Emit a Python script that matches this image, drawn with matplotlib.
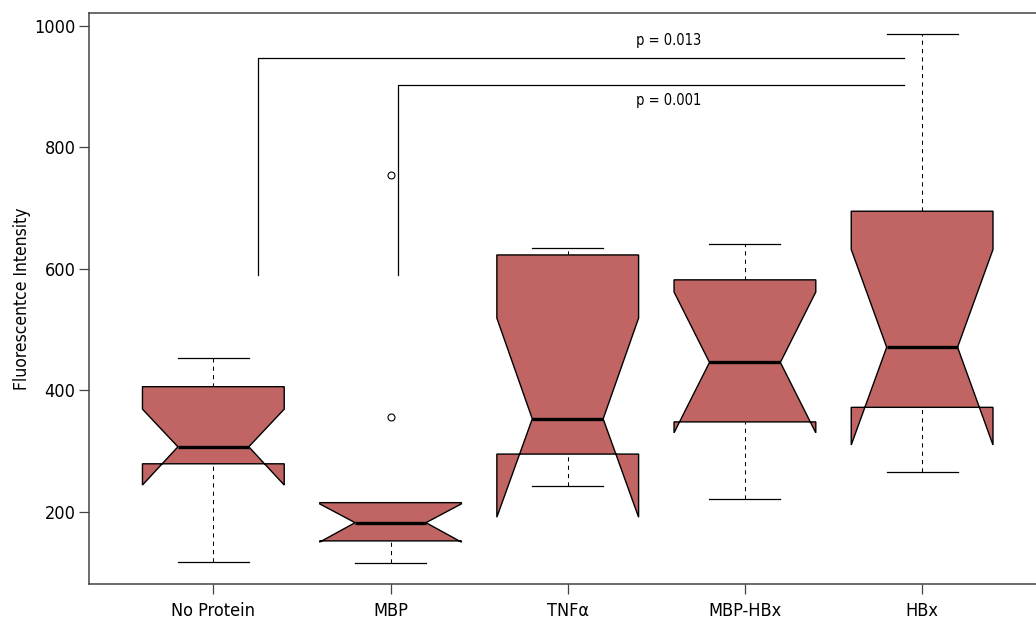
import matplotlib
matplotlib.use("Agg")
import matplotlib.pyplot as plt
from matplotlib import font_manager
from matplotlib.patches import Polygon

# Prefer a narrow sans face for all text
_installed = {f.name for f in font_manager.fontManager.ttflist}
if "Liberation Sans Narrow" in _installed:
    plt.rcParams['font.family'] = ['Liberation Sans Narrow', 'DejaVu Sans']
    FS_TICK, FS_YLAB, FS_P = 14, 13.5, 11.5
else:
    plt.rcParams['font.family'] = ['DejaVu Sans']
    plt.rcParams['font.stretch'] = 'condensed'
    FS_TICK, FS_YLAB, FS_P = 13, 12.5, 10.5

# Group labels and five-number summaries (with notch limits)
groups = ["No Protein", "MBP", "TNF\u03b1", "MBP-HBx", "HBx"]
whisker_low = [118, 116, 243, 221, 265]
q1 = [279, 152, 295, 348, 372]
median = [307, 182, 353, 446, 471]
q3 = [406, 215, 623, 582, 695]
whisker_high = [453, 215, 634, 641, 987]
notch_low = [244, 150, 191, 330, 310]
notch_high = [369, 213, 519, 562, 632]
outliers = [[], [755, 356], [], [], []]

# Significance brackets
bracket_left = [1.25, 2.04]
bracket_bottom = [590, 590]
bracket_top = [947, 903]
bracket_right = [4.9, 4.9]
p_labels = ["p = 0.013", "p = 0.001"]
p_label_x = [3.57, 3.57]
p_label_y = [977, 878]

yticks = [200, 400, 600, 800, 1000]

fill = "#c16464"
half = 0.4        # half box width
notch_frac = 0.5  # notch width relative to box

fig = plt.figure(figsize=(10.36, 6.23), dpi=100)
ax = fig.add_axes([0.0862, 0.0626, 0.9236, 0.917])

for i, name in enumerate(groups):
    x = i + 1
    # dashed whisker stems
    ax.plot([x, x], [whisker_low[i], q1[i]], color="black", lw=0.75,
            linestyle=(0, (4, 4)), zorder=1)
    ax.plot([x, x], [q3[i], whisker_high[i]], color="black", lw=0.75,
            linestyle=(0, (4, 4)), zorder=1)
    # staples
    ax.plot([x - half / 2, x + half / 2], [whisker_low[i]] * 2, color="black", lw=0.9, zorder=1)
    ax.plot([x - half / 2, x + half / 2], [whisker_high[i]] * 2, color="black", lw=0.9, zorder=1)
    # notched box outline
    xs = [x - half, x + half, x + half, x + half * notch_frac, x + half, x + half,
          x - half, x - half, x - half * notch_frac, x - half]
    ys = [q1[i], q1[i], notch_low[i], median[i], notch_high[i], q3[i],
          q3[i], notch_high[i], median[i], notch_low[i]]
    ax.add_patch(Polygon(list(zip(xs, ys)), closed=True, facecolor=fill,
                         edgecolor="black", lw=1.0, zorder=2))
    # median
    ax.plot([x - half * notch_frac, x + half * notch_frac], [median[i]] * 2,
            color="black", lw=2.4, solid_capstyle="butt", zorder=3)
    # outliers
    if outliers[i]:
        ax.plot([x] * len(outliers[i]), outliers[i], linestyle="none", marker="o",
                markersize=5, markerfacecolor="white", markeredgecolor="black",
                markeredgewidth=0.8, zorder=3)

for xl, yb, yt, xr in zip(bracket_left, bracket_bottom, bracket_top, bracket_right):
    ax.plot([xl, xl, xr], [yb, yt, yt], color="black", lw=0.9, zorder=1)

for txt, tx, ty in zip(p_labels, p_label_x, p_label_y):
    ax.text(tx, ty, txt, ha="center", va="center", fontsize=FS_P)

ax.set_xlim(0.3, 5.7)
ax.set_ylim(81, 1022)
ax.set_xticks(range(1, len(groups) + 1))
ax.set_xticklabels(groups, fontsize=FS_TICK)
ax.set_yticks(yticks)
ax.set_yticklabels([str(v) for v in yticks], fontsize=FS_TICK)
ax.tick_params(axis="both", direction="out", length=7, width=0.9, color="#444444")
ax.tick_params(axis="x", pad=6)
ax.tick_params(axis="y", pad=3)
for s in ax.spines.values():
    s.set_color("#444444")
    s.set_linewidth(1.1)

ax.set_ylabel("Fluorescentce Intensity", fontsize=FS_YLAB)
ax.yaxis.set_label_coords(-0.061, 0.5)

fig.savefig("out.png", dpi=100)
